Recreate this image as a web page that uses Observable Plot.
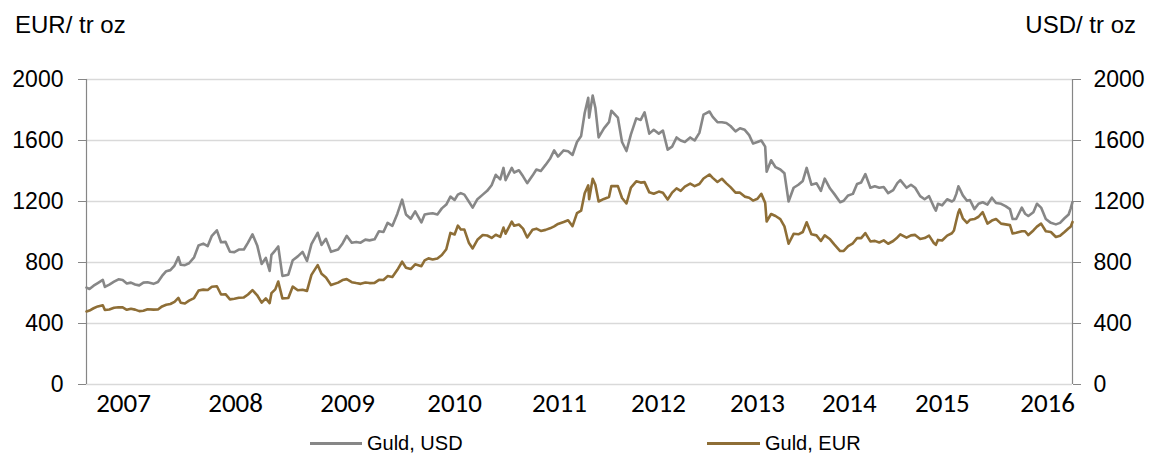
<!DOCTYPE html>
<html><head><meta charset="utf-8">
<script src="https://cdn.jsdelivr.net/npm/d3@7"></script>
<script src="https://cdn.jsdelivr.net/npm/@observablehq/plot@0.6"></script>
<style>
body{margin:0;background:#fff;}
#wrap{position:relative;width:1149px;height:455px;overflow:hidden;font-family:"Liberation Sans",Arial,sans-serif;color:#000;}
#wrap svg{position:absolute;left:0;top:0;}
.title{position:absolute;top:13px;font-size:24px;line-height:24px;white-space:nowrap;}
.sw{position:absolute;height:3px;top:441.5px;}
.lt{position:absolute;top:433px;font-size:20px;line-height:20px;white-space:nowrap;}
</style>
</head><body>
<div id="wrap">
  <div class="title" style="left:15px">EUR/ tr oz</div>
  <div class="title" style="right:13px">USD/ tr oz</div>
  <div class="sw" style="left:310px;width:52px;background:#878787"></div>
  <div class="lt" style="left:367px">Guld, USD</div>
  <div class="sw" style="left:707px;width:53px;background:#8e6e36"></div>
  <div class="lt" style="left:765px">Guld, EUR</div>
</div>
<script>
const dates = [
"2007-01-02","2007-01-12","2007-01-26","2007-02-09","2007-02-26","2007-03-05","2007-03-20","2007-04-05","2007-04-20","2007-05-04","2007-05-18","2007-06-01","2007-06-15","2007-06-29","2007-07-13","2007-07-27","2007-08-16","2007-08-31","2007-09-14","2007-09-28","2007-10-12","2007-10-26","2007-11-08","2007-11-16","2007-11-30","2007-12-14","2007-12-31",
"2008-01-15","2008-01-31","2008-02-15","2008-02-29","2008-03-17","2008-03-31","2008-04-15","2008-04-30","2008-05-15","2008-05-30","2008-06-16","2008-06-30","2008-07-15","2008-07-31","2008-08-15","2008-08-29","2008-09-11","2008-09-17","2008-09-30","2008-10-10","2008-10-24","2008-11-13","2008-11-28","2008-12-15","2008-12-31",
"2009-01-15","2009-01-30","2009-02-20","2009-03-05","2009-03-20","2009-04-06","2009-04-30","2009-05-15","2009-05-29","2009-06-15","2009-06-30","2009-07-15","2009-07-31","2009-08-14","2009-08-31","2009-09-15","2009-09-30","2009-10-14","2009-10-30","2009-11-16","2009-12-02","2009-12-15","2009-12-31",
"2010-01-15","2010-02-05","2010-02-16","2010-03-01","2010-03-15","2010-03-31","2010-04-15","2010-04-30","2010-05-14","2010-05-28","2010-06-08","2010-06-18","2010-06-30","2010-07-15","2010-07-28","2010-08-13","2010-08-31","2010-09-15","2010-09-30","2010-10-14","2010-10-29","2010-11-09","2010-11-16","2010-12-07","2010-12-15","2010-12-31",
"2011-01-14","2011-01-28","2011-02-15","2011-02-28","2011-03-15","2011-03-31","2011-04-15","2011-04-29","2011-05-12","2011-05-31","2011-06-15","2011-06-30","2011-07-15","2011-07-29","2011-08-10","2011-08-22","2011-08-25","2011-09-06","2011-09-15","2011-09-26","2011-10-14","2011-10-31","2011-11-08","2011-11-30","2011-12-14","2011-12-29",
"2012-01-13","2012-01-31","2012-02-15","2012-02-28","2012-03-15","2012-03-30","2012-04-16","2012-04-30","2012-05-16","2012-05-31","2012-06-15","2012-06-29","2012-07-13","2012-07-31","2012-08-15","2012-08-31","2012-09-14","2012-10-04","2012-10-15","2012-10-31","2012-11-15","2012-11-30","2012-12-14","2012-12-31",
"2013-01-15","2013-01-31","2013-02-15","2013-02-28","2013-03-15","2013-03-28","2013-04-10","2013-04-15","2013-04-30","2013-05-15","2013-05-31","2013-06-14","2013-06-28","2013-07-15","2013-07-31","2013-08-15","2013-08-28","2013-09-13","2013-09-30","2013-10-15","2013-10-28","2013-11-15","2013-11-29","2013-12-19","2013-12-31",
"2014-01-15","2014-01-31","2014-02-14","2014-02-28","2014-03-14","2014-03-31","2014-04-15","2014-04-30","2014-05-15","2014-05-30","2014-06-16","2014-06-30","2014-07-10","2014-07-31","2014-08-15","2014-08-29","2014-09-15","2014-09-30","2014-10-15","2014-10-31","2014-11-07","2014-11-14","2014-11-28","2014-12-15","2014-12-31",
"2015-01-07","2015-01-15","2015-01-22","2015-01-26","2015-02-06","2015-02-20","2015-03-02","2015-03-17","2015-03-31","2015-04-14","2015-04-30","2015-05-15","2015-05-29","2015-06-15","2015-06-30","2015-07-15","2015-07-24","2015-08-05","2015-08-24","2015-09-04","2015-09-15","2015-10-02","2015-10-14","2015-10-28","2015-11-13","2015-11-30","2015-12-17","2015-12-31",
"2016-01-15","2016-01-29","2016-02-05","2016-02-11"
];
const guldUSD = [
635,626,648,665,686,640,655,674,690,685,662,668,656,650,668,670,660,672,712,743,750,780,835,785,783,795,834,
912,924,908,975,1011,933,935,871,868,885,885,930,985,912,790,830,745,850,880,905,712,720,815,840,870,
810,920,995,915,955,870,885,925,975,930,935,930,950,945,952,1005,1000,1060,1040,1120,1212,1115,1087,
1135,1063,1115,1120,1123,1115,1155,1180,1232,1210,1245,1255,1245,1200,1160,1215,1245,1270,1307,1375,1345,1420,1340,1420,1390,1405,
1365,1320,1370,1410,1400,1440,1480,1535,1495,1535,1530,1505,1590,1630,1780,1880,1750,1895,1815,1620,1680,1720,1795,1750,1590,1531,
1640,1745,1735,1785,1645,1670,1645,1665,1540,1560,1620,1600,1590,1620,1600,1650,1770,1790,1755,1720,1720,1715,1695,1660,
1680,1670,1635,1580,1590,1600,1560,1395,1470,1425,1410,1385,1200,1290,1310,1335,1420,1310,1320,1270,1350,1285,1250,1195,1205,
1240,1250,1315,1325,1380,1290,1300,1290,1295,1255,1275,1320,1340,1290,1310,1290,1235,1215,1235,1165,1140,1185,1175,1215,1200,
1210,1250,1300,1285,1240,1205,1210,1150,1185,1195,1180,1225,1190,1185,1170,1150,1085,1085,1160,1120,1105,1130,1185,1160,1085,1060,1050,1060,
1090,1115,1155,1197
];
const guldEUR = [
479,485,500,512,520,489,492,503,507,506,490,497,491,481,484,493,491,492,512,523,528,542,568,536,531,550,567,
616,622,620,641,644,590,592,558,562,569,571,590,619,585,537,565,534,599,624,675,565,567,642,618,621,
614,719,783,726,702,652,668,685,691,671,665,660,669,665,666,686,685,711,705,752,805,766,757,
788,776,814,827,820,826,849,887,994,984,1042,1016,1016,930,892,949,980,977,961,982,968,1029,989,1068,1041,1049,
1022,964,1015,1022,1007,1014,1024,1037,1053,1066,1077,1038,1124,1140,1254,1306,1215,1349,1310,1200,1217,1229,1301,1301,1223,1187,
1291,1332,1324,1327,1260,1251,1265,1257,1213,1258,1286,1270,1298,1317,1301,1315,1351,1377,1355,1328,1349,1319,1294,1258,
1258,1232,1225,1206,1218,1250,1191,1069,1118,1105,1085,1037,923,988,985,1000,1064,985,978,941,978,952,919,875,876,
908,926,960,960,993,938,942,931,945,923,941,964,985,963,978,981,954,960,976,928,916,948,944,976,992,
1010,1075,1130,1148,1090,1060,1080,1085,1100,1130,1055,1075,1085,1055,1050,1045,990,995,1005,1005,980,1010,1035,1055,1005,1000,967,975,
1000,1025,1035,1066
];
const xStart = "2007-01-02", xEnd = "2016-02-11";
const yTicks = [0, 400, 800, 1200, 1600, 2000];
const yearLabels = ["2007","2008","2009","2010","2011","2012","2013","2014","2015","2016"];
const yearLabelDates = ["2007-05-07","2008-05-19","2009-06-01","2010-05-28","2011-05-17","2012-04-15","2013-03-15","2014-01-19","2014-11-29","2015-11-19"];

const parse = d3.utcParse("%Y-%m-%d");
const X = dates.map(parse);
const axisColor = "#868686";

const chart = Plot.plot({
  width: 1149,
  height: 425,
  marginTop: 79,
  marginBottom: 41,
  marginLeft: 86,
  marginRight: 77,
  style: {fontFamily: "'Liberation Sans', Arial, sans-serif", fontSize: "23px", color: "#000", background: "transparent", overflow: "visible"},
  x: {type: "utc", domain: [parse(xStart), parse(xEnd)], axis: null},
  y: {domain: [0, 2000]},
  marks: [
    Plot.ruleY(yTicks, {stroke: "#d9d9d9", strokeWidth: 1.3}),
    Plot.ruleX([parse(xStart), parse(xEnd)], {stroke: axisColor, strokeWidth: 1.2}),
    Plot.axisY({anchor: "left", ticks: yTicks, tickSize: 8, tickPadding: 15, tickFormat: "d", label: null, stroke: axisColor}),
    Plot.axisY({anchor: "right", ticks: yTicks, tickSize: 8, tickPadding: 13, tickFormat: "d", label: null, stroke: axisColor}),
    Plot.line(guldUSD, {x: X, y: guldUSD, stroke: "#878787", strokeWidth: 2.6, curve: "linear"}),
    Plot.line(guldEUR, {x: X, y: guldEUR, stroke: "#8e6e36", strokeWidth: 2.6, curve: "linear"}),
    Plot.text(yearLabels, {x: yearLabelDates.map(parse), text: yearLabels, frameAnchor: "bottom", dy: 27, fontFamily: "Carlito, Lato, sans-serif", fontSize: 27, fill: "#000"})
  ]
});
document.getElementById("wrap").prepend(chart);
</script>
</body></html>
